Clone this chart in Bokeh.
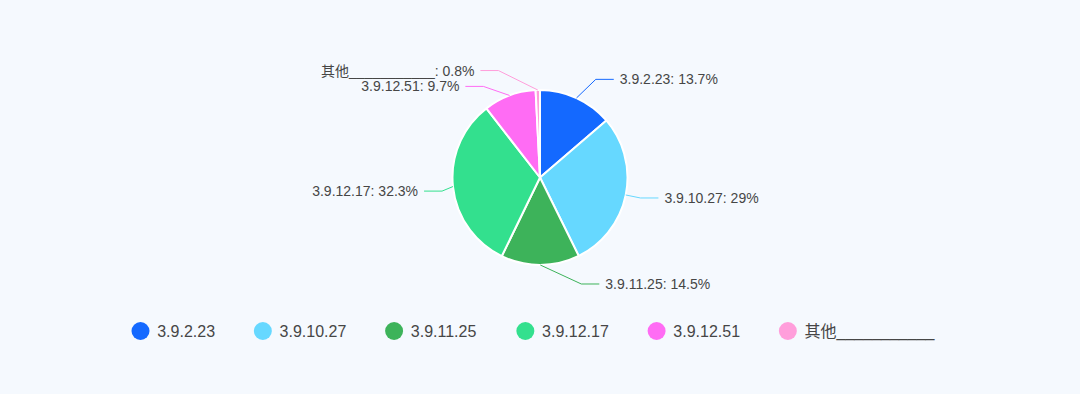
import math
from bokeh.plotting import figure
from bokeh.models import Range1d
from bokeh.core.properties import value
from bokeh.embed import file_html
from bokeh.resources import INLINE

# ---------------- data ----------------
categories = ["3.9.2.23", "3.9.10.27", "3.9.11.25", "3.9.12.17", "3.9.12.51", "其他___________"]
shares = [13.7, 29.0, 14.5, 32.3, 9.7, 0.8]
value_labels = ["13.7%", "29%", "14.5%", "32.3%", "9.7%", "0.8%"]
colors = ["#1469ff", "#66d8ff", "#3db35a", "#33e08e", "#ff6cf4", "#ff9edb"]

# ---------------- layout / style ----------------
W, H = 1064, 378
IMG_H = 394
BG = "#f5f9fe"
FONT = "Liberation Sans, Noto Sans CJK SC"
TEXT_COLOR = "#464646"
CX, CY, R = 539.5, 177.0, 87.5   # page coordinates (y down)
L1, L2, GAP = 15, 18, 6
# label layout nudges to avoid overlaps (px)
NUDGE = {0: (13, -5), 1: (0, 0), 2: (41, 4), 3: (4, 3), 4: (-21, 5), 5: (-39, -4.5)}

def Y(y):
    return IMG_H - y

p = figure(width=W, height=H, output_backend="svg", toolbar_location=None,
           x_range=Range1d(0, W), y_range=Range1d(Y(H), Y(0)),
           x_axis_type=None, y_axis_type=None, min_border=0)
p.grid.visible = False
p.outline_line_color = None
p.background_fill_color = BG
p.border_fill_color = BG

total = sum(shares)
starts, ends, mids = [], [], []
c = 0.0
for s in shares:
    f0, f1 = c / total, (c + s) / total
    starts.append(math.pi / 2 - 2 * math.pi * f0)
    ends.append(math.pi / 2 - 2 * math.pi * f1)
    mids.append((f0 + f1) / 2)
    c += s

p.wedge(x=[CX] * len(shares), y=[Y(CY)] * len(shares), radius=R,
        start_angle=starts, end_angle=ends, direction="clock",
        fill_color=colors, line_color="white", line_width=2)

# leader lines and labels
xs, ys = [], []
lx, ly, ltxt, lalign = [], [], [], []
for i, f in enumerate(mids):
    a = 2 * math.pi * f  # clockwise from top
    sx, sy = CX + R * math.sin(a), CY - R * math.cos(a)
    ex, ey = CX + (R + L1) * math.sin(a), CY - (R + L1) * math.cos(a)
    dx, dy = NUDGE[i]
    ex, ey = ex + dx, ey + dy
    right = math.sin(a) >= 0
    hx = ex + L2 if right else ex - L2
    xs.append([sx, ex, hx])
    ys.append([Y(sy), Y(ey), Y(ey)])
    lx.append(hx + GAP if right else hx - GAP)
    ly.append(Y(ey))
    ltxt.append(f"{categories[i]}: {value_labels[i]}")
    lalign.append("left" if right else "right")

p.multi_line(xs=xs, ys=ys, line_color=colors, line_width=1)
for i in range(len(ltxt)):
    p.text(x=[lx[i]], y=[ly[i]], text=[ltxt[i]], text_align=lalign[i],
           text_baseline="middle", text_font=value(FONT),
           text_font_size="14px", text_color=TEXT_COLOR)

# legend (manual, horizontal)
LEG_Y = 330.5
char_w = {".": 4.45, "_": 8.9}
def est_w(s):
    return sum(16 if ord(ch) > 255 else char_w.get(ch, 8.9) for ch in s)
x = 140.0
leg_x, leg_tx = [], []
for cat in categories:
    leg_x.append(x)
    leg_tx.append(x + 16.7)
    x += est_w(cat) + 64.5
p.scatter(x=leg_x, y=[Y(LEG_Y)] * len(leg_x), size=18, marker="circle",
          fill_color=colors, line_color=None)
p.text(x=leg_tx, y=[Y(LEG_Y)] * len(leg_tx), text=categories, text_align="left",
       text_baseline="middle", text_font=value(FONT), text_font_size="16px",
       text_color=TEXT_COLOR)

html = file_html(p, INLINE)
html = html.replace("<head>", "<head><style>html,body{background:%s;}</style>" % BG, 1)
open("out.html", "w").write(html)
